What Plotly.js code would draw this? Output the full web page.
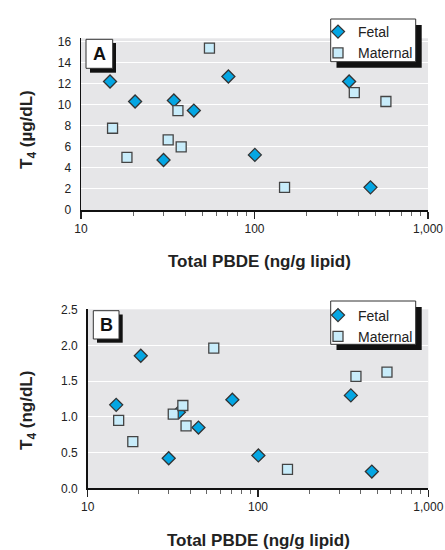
<!DOCTYPE html>
<html>
<head>
<meta charset="utf-8">
<script src="https://cdn.plot.ly/plotly-3.0.1.min.js"></script>
<style>html,body{margin:0;padding:0;background:#fff}#chart{width:445px;height:550px}</style>
</head>
<body>
<div id="chart"></div>
<script>
// ---- data ----
const fetalPBDE    = [14.7, 20.5, 29.9, 34.3, 44.7, 70.7, 100.5, 351, 466];
const maternalPBDE = [15.2, 18.4, 31.8, 36.2, 37.8, 55.0, 149, 376, 572];
const fetalT4total    = [12.2, 10.3, 4.75, 10.4, 9.44, 12.67, 5.23, 12.2, 2.15];
const maternalT4total = [7.76, 5.0, 6.65, 9.44, 5.99, 15.37, 2.15, 11.15, 10.3];
const fetalT4free    = [1.168, 1.855, 0.42, 1.065, 0.85, 1.24, 0.46, 1.30, 0.234];
const maternalT4free = [0.95, 0.654, 1.037, 1.159, 0.874, 1.963, 0.266, 1.565, 1.626];
const seriesNames = ["Fetal", "Maternal"];
const panelLabels = ["A", "B"];
const xMajorTicks = [10, 100, 1000];
const xMajorText  = ["10", "100", "1,000"];
const xMinorTicks = [20, 30, 40, 50, 60, 70, 80, 90, 200, 300, 400, 500, 600, 700, 800, 900];
const yTicksA = [0, 2, 4, 6, 8, 10, 12, 14, 16];
const yTicksB = [0, 0.5, 1.0, 1.5, 2.0, 2.5];
const yTextB  = ["0.0", "0.5", "1.0", "1.5", "2.0", "2.5"];
const xTitle = "Total PBDE (ng/g lipid)";
const yTitleA = "T<sub>4</sub> (\u00b5g/dL)";
const yTitleB = "T<sub>4</sub> (ng/dL)";

// ---- styling helpers ----
const W = 445, H = 550;
const px = v => v / W;
const py = v => 1 - v / H;
const FONT = "'Liberation Sans', Arial, sans-serif";
const fetalMarker = {symbol: "diamond", size: 10, color: "#04a6e3", line: {color: "#333", width: 1.3}};
const maternalMarker = {symbol: "square", size: 10, color: "#c8ecfa", line: {color: "#444", width: 1.3}};

const traces = [
  {x: fetalPBDE, y: fetalT4total, name: seriesNames[0], type: "scatter", mode: "markers", marker: fetalMarker, xaxis: "x", yaxis: "y", legend: "legend"},
  {x: maternalPBDE, y: maternalT4total, name: seriesNames[1], type: "scatter", mode: "markers", marker: maternalMarker, xaxis: "x", yaxis: "y", legend: "legend"},
  {x: fetalPBDE, y: fetalT4free, name: seriesNames[0], type: "scatter", mode: "markers", marker: fetalMarker, xaxis: "x2", yaxis: "y2", legend: "legend2"},
  {x: maternalPBDE, y: maternalT4free, name: seriesNames[1], type: "scatter", mode: "markers", marker: maternalMarker, xaxis: "x2", yaxis: "y2", legend: "legend2"}
];

function xAxis(domain, anchor) {
  return {
    type: "log", range: [1, 3], domain: domain, anchor: anchor,
    tickmode: "array", tickvals: xMajorTicks, ticktext: xMajorText,
    ticks: "outside", ticklen: 7, tickwidth: 1.2, tickcolor: "#222",
    minor: {tickmode: "array", tickvals: xMinorTicks, ticks: "outside", ticklen: 4, tickwidth: 1, tickcolor: "#666", showgrid: false},
    showgrid: false, zeroline: false, showline: true, linecolor: "#111", linewidth: 1.5,
    tickfont: {family: FONT, size: 12, color: "#222"}, ticklabelstandoff: 0, fixedrange: true, automargin: false
  };
}
function yAxis(domain, anchor, range, vals, text) {
  const a = {
    range: range, domain: domain, anchor: anchor,
    tickmode: "array", tickvals: vals,
    ticks: "", showgrid: true, gridcolor: "#ffffff", gridwidth: 1,
    zeroline: false, showline: true, linecolor: "#111", linewidth: 1.5,
    tickfont: {family: FONT, size: 12, color: "#222"}, ticklabelstandoff: 6, fixedrange: true, automargin: false
  };
  if (text) a.ticktext = text;
  return a;
}

function box(x0, y0, x1, y1, fill, lineColor, lw) {
  return {type: "rect", xref: "paper", yref: "paper", layer: "above",
    x0: px(x0), x1: px(x1), y0: py(y1), y1: py(y0),
    fillcolor: fill, line: {color: lineColor, width: lw}};
}

const shapes = [
  // panel A label
  box(90, 43, 116, 72.7, "#111", "#111", 0),
  box(86, 39.3, 112.7, 68.3, "#fff", "#333", 1),
  // panel A legend
  box(336.5, 25, 421.7, 67.7, "#111", "#111", 0),
  box(330.7, 19, 415.7, 61.7, "#fff", "#333", 1),
  // panel B label
  box(97, 314.5, 122.7, 342.7, "#111", "#111", 0),
  box(93.3, 310.7, 119, 339, "#fff", "#333", 1),
  // panel B legend
  box(336.5, 307, 421.7, 350, "#111", "#111", 0),
  box(330.7, 301, 415.7, 344.3, "#fff", "#333", 1)
];

function ann(text, x, y, size, opts) {
  return Object.assign({text: text, xref: "paper", yref: "paper", x: px(x), y: py(y),
    showarrow: false, xanchor: "center", yanchor: "middle",
    font: {family: FONT, size: size, color: "#222"}}, opts || {});
}

const labelFont = {family: FONT, size: 18, color: "#111"};
const annotations = [
  ann("<b>" + panelLabels[0] + "</b>", 99.3, 54, 18, {font: labelFont}),
  ann("<b>" + panelLabels[1] + "</b>", 106.2, 325, 18, {font: labelFont}),
  ann("<b>" + xTitle + "</b>", 259, 261.5, 17),
  ann("<b>" + xTitle + "</b>", 258, 540.5, 17),
  ann("<b>" + yTitleA + "</b>", 28, 130, 17, {textangle: -90}),
  ann("<b>" + yTitleB + "</b>", 28, 411, 17, {textangle: -90})
];

function legend(x, yTop) {
  return {xref: "container", yref: "container", x: px(x), y: py(yTop),
    xanchor: "left", yanchor: "top", maxheight: 200,
    bgcolor: "rgba(0,0,0,0)", borderwidth: 0, tracegroupgap: 0,
    font: {family: FONT, size: 14, color: "#222"}, itemclick: false, itemdoubleclick: false};
}

const layout = {
  width: W, height: H,
  margin: {l: 0, r: 0, t: 0, b: 0, autoexpand: false},
  paper_bgcolor: "#ffffff", plot_bgcolor: "#e6e6e8",
  showlegend: true,
  xaxis: xAxis([px(81), px(428)], "y"),
  yaxis: yAxis([py(210), py(38.3)], "x", [0, 16.3], yTicksA, null),
  xaxis2: xAxis([px(87.7), px(428.3)], "y2"),
  yaxis2: yAxis([py(488.3), py(309.3)], "x2", [0, 2.505], yTicksB, yTextB),
  legend: legend(318, 16),
  legend2: legend(318, 299.5),
  shapes: shapes,
  annotations: annotations
};

Plotly.newPlot("chart", traces, layout, {displayModeBar: false, staticPlot: true});
</script>
</body>
</html>
